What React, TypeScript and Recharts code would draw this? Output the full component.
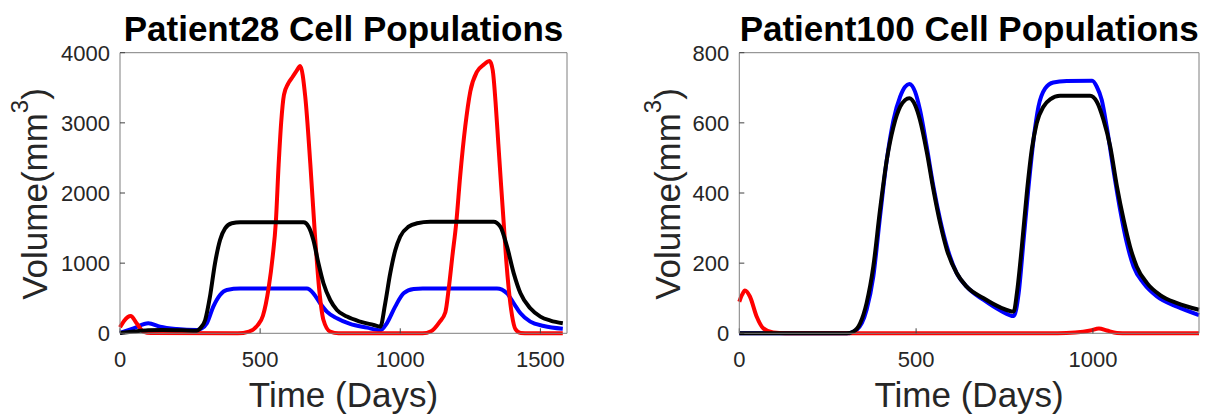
import { Line, LineChart, XAxis, YAxis } from "recharts";

const FONT = '"Liberation Sans", Arial, Helvetica, sans-serif';

// Patient28 (days / mm^3)
const p28RedT = [0, 15, 38, 60, 83, 110, 420, 460, 490, 510, 530, 545, 556, 566, 575, 585, 600, 615, 630, 643, 661, 679, 696, 711, 726, 750, 780, 1080, 1110, 1140, 1161, 1173, 1186, 1200, 1214, 1232, 1250, 1274, 1298, 1319, 1330, 1340, 1350, 1360, 1369, 1378, 1387, 1399, 1411, 1430, 1460, 1580];
const p28RedV = [85, 180, 247, 140, 24, 3, 0, 25, 110, 250, 637, 1100, 1582, 2400, 3000, 3400, 3560, 3650, 3740, 3811, 3374, 2423, 1378, 618, 190, 24, 0, 0, 30, 160, 300, 637, 1100, 1582, 2250, 2950, 3450, 3730, 3830, 3882, 3750, 3300, 2700, 2100, 1582, 1050, 637, 250, 60, 5, 0, 0];
const p28BlueT = [0, 48, 101, 143, 202, 274, 292, 310, 333, 357, 381, 429, 667, 690, 714, 738, 774, 821, 881, 929, 952, 982, 1012, 1048, 1080, 1345, 1381, 1405, 1429, 1464, 1512, 1580];
const p28BlueV = [5, 71, 145, 95, 62, 48, 70, 143, 380, 546, 618, 637, 637, 570, 428, 309, 214, 133, 81, 45, 143, 380, 570, 632, 640, 640, 570, 428, 285, 166, 105, 65];
const p28BlackT = [0, 50, 100, 150, 220, 274, 286, 304, 321, 339, 357, 375, 399, 429, 655, 673, 690, 708, 726, 750, 774, 810, 857, 905, 929, 946, 964, 982, 1000, 1030, 1060, 1107, 1333, 1357, 1381, 1405, 1429, 1464, 1500, 1536, 1580];
const p28BlackV = [5, 25, 42, 48, 44, 38, 71, 190, 523, 998, 1330, 1497, 1568, 1582, 1582, 1520, 1330, 998, 713, 475, 333, 238, 166, 119, 95, 420, 850, 1180, 1380, 1520, 1568, 1590, 1590, 1520, 1235, 855, 570, 356, 238, 181, 143];

// Patient100
const p100RedT = [0, 8, 16, 30, 49, 68, 96, 130, 900, 950, 993, 1017, 1039, 1068, 1100, 1300];
const p100RedV = [90, 110, 122, 105, 48, 14, 2, 0, 0, 2, 8, 14, 8, 1, 0, 0];
const p100BlueT = [0, 304, 332, 360, 379, 398, 417, 436, 455, 469, 481, 497, 511, 530, 549, 568, 587, 615, 643, 691, 738, 776, 790, 804, 818, 832, 846, 865, 888, 926, 998, 1011, 1025, 1039, 1058, 1077, 1096, 1115, 1143, 1181, 1238, 1300];
const p100BlueV = [0, 0, 10, 67, 162, 333, 494, 608, 675, 703, 711, 689, 637, 532, 418, 323, 247, 171, 133, 95, 65, 49, 114, 266, 418, 551, 646, 698, 715, 719, 720, 703, 665, 589, 466, 352, 257, 190, 143, 105, 76, 52];
const p100BlackT = [0, 304, 323, 342, 360, 379, 398, 417, 436, 455, 469, 481, 497, 511, 530, 549, 568, 587, 615, 643, 691, 738, 776, 785, 799, 813, 827, 841, 860, 879, 907, 992, 1011, 1030, 1049, 1068, 1087, 1105, 1124, 1153, 1190, 1238, 1300];
const p100BlackV = [0, 0, 5, 29, 86, 190, 352, 494, 589, 646, 665, 670, 651, 608, 518, 409, 314, 238, 171, 133, 100, 74, 62, 114, 247, 399, 523, 599, 646, 667, 677, 677, 660, 608, 532, 418, 323, 247, 190, 143, 109, 86, 67];

const p28XTicks = [0, 500, 1000, 1500];
const p28YTicks = [0, 1000, 2000, 3000, 4000];
const p100XTicks = [0, 500, 1000];
const p100YTicks = [0, 200, 400, 600, 800];

const zip = (t: number[], v: number[]) => t.map((x, i) => ({ t: x, v: v[i] }));

const AXIS = "#7f7f7f";
const TICKLINE = "#404040";
const TICK = { fontSize: 22, fill: "#262626", fontFamily: FONT };

type Series = { data: { t: number; v: number }[]; color: string; mirror?: boolean };

function Panel(props: {
  title: string;
  width: number;
  plotLeft: number;
  plotRight: number;
  xMax: number;
  xTicks: number[];
  yMax: number;
  yTicks: number[];
  yLabelX: number;
  series: Series[];
}) {
  const { title, width, plotLeft, plotRight, xMax, xTicks, yMax, yTicks, yLabelX, series } = props;
  const top = 52.7;
  const bottom = 83.7;

  // title + x label share the bottom axis label slot
  const xLabel = ({ viewBox }: any) =>
    viewBox ? (
      <g>
        <text x={viewBox.x + viewBox.width / 2} y={41} textAnchor="middle" fontSize={35} fontWeight="bold" fill="#000" fontFamily={FONT}>
          {title}
        </text>
        <text x={viewBox.x + viewBox.width / 2} y={viewBox.y + 73.4} textAnchor="middle" fontSize={35} fill="#262626" fontFamily={FONT}>
          Time (Days)
        </text>
      </g>
    ) : null;

  const yLabel = ({ viewBox }: any) => {
    if (!viewBox) return null;
    const cx = viewBox.x + yLabelX;
    const cy = viewBox.y + viewBox.height / 2 + 1;
    return (
      <text x={cx} y={cy} transform={`rotate(-90 ${cx} ${cy})`} textAnchor="middle" fontSize={35} fill="#262626" fontFamily={FONT}>
        <tspan>Volume(mm</tspan>
        <tspan dy={-19} fontSize={24}>3</tspan>
        <tspan dy={19}>)</tspan>
      </text>
    );
  };

  return (
    <LineChart width={width} height={417} margin={{ top: top - 1, right: width - plotRight - 1, bottom: 0, left: 0 }}>
      <XAxis
        dataKey="t"
        type="number"
        domain={[0, xMax]}
        ticks={xTicks}
        height={bottom}
        tickSize={-5}
        tickMargin={22.7}
        tick={TICK}
        axisLine={{ stroke: AXIS }}
        tickLine={{ stroke: TICKLINE }}
        label={xLabel}
      />
      <XAxis
        xAxisId="top"
        dataKey="t"
        orientation="top"
        type="number"
        domain={[0, xMax]}
        ticks={xTicks}
        height={1}
        tickSize={-5}
        tick={false}
        axisLine={{ stroke: AXIS }}
        tickLine={{ stroke: TICKLINE }}
      />
      <YAxis
        type="number"
        domain={[0, yMax]}
        ticks={yTicks}
        width={plotLeft}
        tickSize={-5}
        tickMargin={15}
        tick={TICK}
        axisLine={{ stroke: AXIS }}
        tickLine={{ stroke: TICKLINE }}
        label={yLabel}
      />
      <YAxis
        yAxisId="right"
        orientation="right"
        type="number"
        domain={[0, yMax]}
        ticks={yTicks}
        width={1}
        tickSize={-5}
        tick={false}
        axisLine={{ stroke: AXIS }}
        tickLine={{ stroke: TICKLINE }}
      />
      {series.map((s, i) => (
        <Line
          key={i}
          data={s.data}
          dataKey="v"
          xAxisId={s.mirror ? "top" : 0}
          yAxisId={s.mirror ? "right" : 0}
          type="monotone"
          stroke={s.color}
          strokeWidth={4}
          dot={false}
          activeDot={false}
          isAnimationActive={false}
        />
      ))}
    </LineChart>
  );
}

export default function App() {
  return (
    <div style={{ position: "absolute", left: 0, top: 0, width: 1209, height: 417, background: "#fff" }}>
      <div style={{ position: "absolute", left: 0, top: 0 }}>
        <Panel
          title="Patient28 Cell Populations"
          width={600}
          plotLeft={120}
          plotRight={567}
          xMax={1595}
          xTicks={p28XTicks}
          yMax={4000}
          yTicks={p28YTicks}
          yLabelX={47}
          series={[
            { data: zip(p28BlueT, p28BlueV), color: "#0000ff" },
            { data: zip(p28RedT, p28RedV), color: "#ff0000", mirror: true },
            { data: zip(p28BlackT, p28BlackV), color: "#000000" },
          ]}
        />
      </div>
      <div style={{ position: "absolute", left: 600, top: 0 }}>
        <Panel
          title="Patient100 Cell Populations"
          width={609}
          plotLeft={139.3}
          plotRight={599}
          xMax={1300}
          xTicks={p100XTicks}
          yMax={800}
          yTicks={p100YTicks}
          yLabelX={80}
          series={[
            { data: zip(p100BlueT, p100BlueV), color: "#0000ff" },
            { data: zip(p100RedT, p100RedV), color: "#ff0000", mirror: true },
            { data: zip(p100BlackT, p100BlackV), color: "#000000" },
          ]}
        />
      </div>
    </div>
  );
}
